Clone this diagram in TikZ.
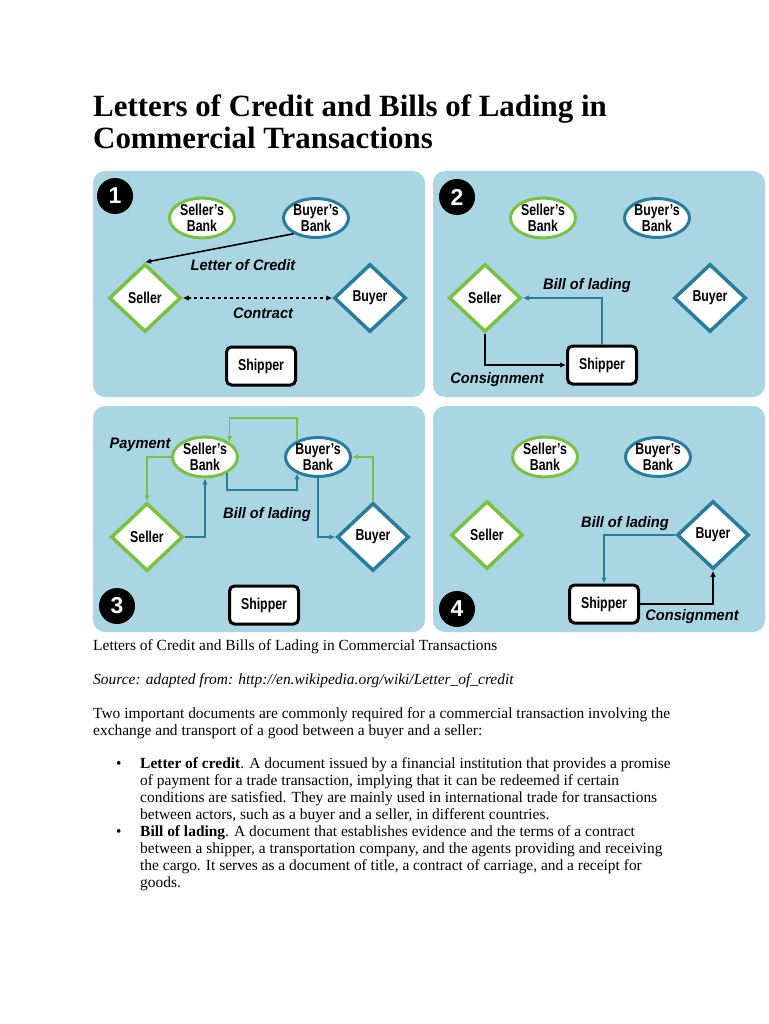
\documentclass[tikz,border=0pt]{standalone}
\usepackage{fontspec}
\setmainfont{Liberation Serif}
\newfontfamily\labfont[FakeStretch=0.78]{Liberation Sans}
\newfontfamily\itfont[FakeStretch=0.96]{Liberation Sans}
\newfontfamily\numfont{Liberation Sans}
\usetikzlibrary{shapes.geometric,arrows.meta}
\definecolor{panelbg}{RGB}{170,214,228}
\definecolor{grn}{RGB}{122,193,66}
\definecolor{blu}{RGB}{42,124,156}
\tikzset{
  panel/.style={fill=panelbg,draw=none,rounded corners=12pt},
  bank/.style={ellipse,fill=white,line width=3pt,minimum width=65pt,minimum height=38pt,inner sep=0pt,align=center,font=\labfont\bfseries\fontsize{15.8}{16.5}\selectfont},
  sbank/.style={bank,draw=grn},
  bbank/.style={bank,draw=blu},
  party/.style={diamond,fill=white,line width=3.5pt,minimum width=72pt,minimum height=68pt,inner sep=0pt,font=\labfont\bfseries\fontsize{15.8}{16.5}\selectfont},
  seller/.style={party,draw=grn},
  buyer/.style={party,draw=blu},
  shipbox/.style={rectangle,rounded corners=5pt,fill=white,draw=black,line width=3pt,minimum width=69pt,minimum height=38pt,inner sep=0pt,font=\labfont\bfseries\fontsize{15.8}{16.5}\selectfont},
  numc/.style={circle,fill=black,minimum size=36pt,inner sep=0pt,text=white,font=\numfont\bfseries\fontsize{23}{23}\selectfont},
  lbl/.style={font=\itfont\bfseries\itshape\fontsize{15.2}{16}\selectfont,inner sep=0pt},
  arr/.style={line width=1.6pt,-{Latex[length=6pt,width=5.5pt]}},
  karr/.style={arr,draw=black},
  garr/.style={arr,draw=grn},
  barr/.style={arr,draw=blu},
  body/.style={font=\fontsize{15.45}{17.2}\selectfont,inner sep=0pt,anchor=base west,align=left},
}
\begin{document}
\begin{tikzpicture}[x=1pt,y=-1pt]
\useasboundingbox (0,0) rectangle (768,1024);
\fill[white] (0,0) rectangle (768,1024);

% Title (anchor is the baseline of the last line)
\node[anchor=base west,inner sep=0pt,align=left,font=\bfseries\fontsize{30.9}{32}\selectfont] (title) at (93,149)
  {Letters of Credit and Bills of Lading in\\Commercial Transactions};

% Panels
\fill[panel] (93,171) rectangle (425,397);
\fill[panel] (433,171) rectangle (765,397);
\fill[panel] (93,406) rectangle (425,632);
\fill[panel] (433,406) rectangle (765,632);

% ---------- Panel 1 ----------
\node[numc] (n1) at (115,196) {1};
\node[sbank] (sb1) at (202,218) {Seller’s\\Bank};
\node[bbank] (bb1) at (316,218) {Buyer’s\\Bank};
\node[seller] (s1) at (145,298) {Seller};
\node[buyer] (b1) at (370,298) {Buyer};
\node[shipbox] (sh1) at (261,366) {Shipper};
\draw[karr] (bb1.215) -- (s1.north);
\node[lbl] (loc1) at (243,265) {Letter of Credit};
\draw[line width=1.6pt,dashed,{Latex[length=6pt,width=5.5pt]}-{Latex[length=6pt,width=5.5pt]}] (s1.east) -- (b1.west);
\node[lbl] (con1) at (263,313) {Contract};

% ---------- Panel 2 ----------
\node[numc] (n2) at (457,197) {2};
\node[sbank] (sb2) at (543,218) {Seller’s\\Bank};
\node[bbank] (bb2) at (657,218) {Buyer’s\\Bank};
\node[seller] (s2) at (485,298) {Seller};
\node[buyer] (b2) at (710,298) {Buyer};
\node[shipbox] (sh2) at (602,365) {Shipper};
\draw[barr] (sh2.north) |- (s2.east);
\node[lbl] (bol2) at (587,286) {Bill of lading};
\draw[karr] (s2.south) |- (sh2.west);
\node[lbl] (cons2) at (497,380) {Consignment};

% ---------- Panel 3 ----------
\node[numc] (n3) at (117,606) {3};
\node[sbank] (sb3) at (205,457) {Seller’s\\Bank};
\node[bbank] (bb3) at (318,457) {Buyer’s\\Bank};
\node[seller] (s3) at (147,537) {Seller};
\node[buyer] (b3) at (373,537) {Buyer};
\node[shipbox] (sh3) at (264,605) {Shipper};
\coordinate (top3) at (0,418);
\coordinate (mid3) at (0,490);
\draw[garr] (sb3.west) -| (s3.north);
\node[lbl] (pay3) at (140,445) {Payment};
\draw[garr] (b3.north) |- (bb3.east);
\draw[garr] (bb3.142) -- (bb3.142 |- top3) -| (sb3.31);
\draw[barr] (s3.east) -| (sb3.south);
\draw[barr] (sb3.324) -- (sb3.324 |- mid3) -| (bb3.218);
\draw[barr] (bb3.south) |- (b3.west);
\node[lbl] (bol3) at (267,515) {Bill of lading};

% ---------- Panel 4 ----------
\node[numc] (n4) at (457,609) {4};
\node[sbank] (sb4) at (545,457) {Seller’s\\Bank};
\node[bbank] (bb4) at (658,457) {Buyer’s\\Bank};
\node[seller] (s4) at (487,535) {Seller};
\node[buyer] (b4) at (713,535) {Buyer};
\node[shipbox] (sh4) at (604,604) {Shipper};
\draw[barr] (b4.west) -| (sh4.north);
\node[lbl] (bol4) at (625,524) {Bill of lading};
\draw[karr] (sh4.east) -| (b4.south);
\node[lbl] (cons4) at (692,617) {Consignment};

% ---------- Body text (anchors at last line's baseline) ----------
\node[body] (cap) at (93,650) {Letters of Credit and Bills of Lading in Commercial Transactions};
\node[body] (src) at (93,684) {\itshape Source: adapted from: http://en.wikipedia.org/wiki/Letter\_of\_credit};
\node[body] (para) at (93,735.2) {Two important documents are commonly required for a commercial transaction involving the\\exchange and transport of a good between a buyer and a seller:};
\node[body] (bul1) at (116,768) {•};
\node[body] (it1) at (140,819.6) {\textbf{Letter of credit}. A document issued by a financial institution that provides a promise\\of payment for a trade transaction, implying that it can be redeemed if certain\\conditions are satisfied. They are mainly used in international trade for transactions\\between actors, such as a buyer and a seller, in different countries.};
\node[body] (bul2) at (116,836) {•};
\node[body] (it2) at (140,887.6) {\textbf{Bill of lading}. A document that establishes evidence and the terms of a contract\\between a shipper, a transportation company, and the agents providing and receiving\\the cargo. It serves as a document of title, a contract of carriage, and a receipt for\\goods.};
\end{tikzpicture}
\end{document}
